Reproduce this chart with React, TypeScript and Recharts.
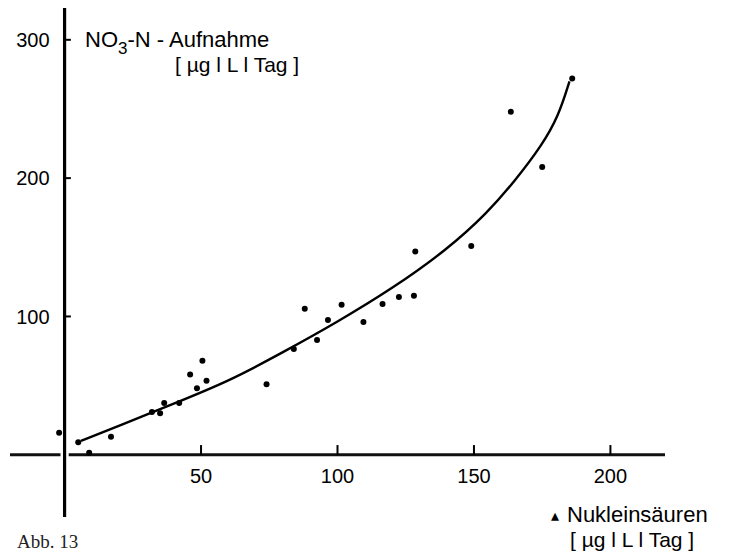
import React from 'react';
import { ComposedChart, Line, Scatter, XAxis, YAxis, ReferenceLine } from 'recharts';

// measured points: nucleic acids (x) vs NO3-N uptake (y)
const pointX = [-2, 5, 9, 17, 32, 35, 36.5, 42, 46, 48.5, 50.5, 52, 74, 84, 88, 92.5, 96.5, 101.5, 109.5, 116.5, 122.5, 128, 128.5, 149, 163.5, 175, 186];
const pointY = [16, 9, 1.5, 13, 31, 30, 37.5, 37.5, 58, 48, 68, 53.5, 51, 76.5, 105.5, 83, 97.5, 108.5, 96, 109, 114, 115, 147, 151, 248, 208, 272];

// hand-drawn regression curve
const curveX = [6, 20, 40, 60, 80, 100, 120, 140, 155, 165, 175, 181, 185];
const curveY = [10, 21, 37, 53, 74, 96, 120, 148, 175, 198, 224, 245, 270];

const xTicks = [50, 100, 150, 200];
const yTicks = [100, 200, 300];

const points = pointX.map((x, i) => ({ x, y: pointY[i] }));
const curve = curveX.map((x, i) => ({ x, y: curveY[i] }));

const FONT = '"Liberation Sans", Arial, sans-serif';

const Dot = (props: any) => <circle cx={props.cx} cy={props.cy} r={3} fill="#000" />;

export default function App() {
  return (
    <div style={{ position: 'absolute', left: 0, top: 0, width: 731, height: 555, background: '#fff', overflow: 'hidden' }}>
      <ComposedChart width={731} height={555} margin={{ top: 8, right: 66, bottom: 38, left: 10 }}>
        <XAxis type="number" dataKey="x" domain={[-20, 220]} hide allowDataOverflow />
        <YAxis type="number" dataKey="y" domain={[-45, 323]} hide allowDataOverflow />

        {/* axes crossing at the origin */}
        <ReferenceLine segment={[{ x: -20, y: 0 }, { x: -1.5, y: 0 }]} stroke="#111" strokeWidth={2.8} />
        <ReferenceLine segment={[{ x: 1.5, y: 0 }, { x: 220, y: 0 }]} stroke="#111" strokeWidth={2.8} />
        <ReferenceLine x={0} stroke="#000" strokeWidth={3.2} />

        {xTicks.map((t) => (
          <ReferenceLine
            key={`xt-${t}`}
            segment={[{ x: t, y: 0 }, { x: t, y: 7 }]}
            stroke="#000"
            strokeWidth={2}
            label={{ value: String(t), position: 'bottom', offset: 14, fill: '#000', fontSize: 20, fontFamily: FONT }}
          />
        ))}
        {yTicks.map((t) => (
          <ReferenceLine
            key={`yt-${t}`}
            segment={[{ x: 0, y: t }, { x: 2.3, y: t }]}
            stroke="#000"
            strokeWidth={2}
            label={{ value: String(t), position: 'left', offset: 15, fill: '#000', fontSize: 20, fontFamily: FONT }}
          />
        ))}

        <Line data={curve} dataKey="y" type="basis" stroke="#000" strokeWidth={2.4} dot={false} isAnimationActive={false} />
        <Scatter data={points} dataKey="y" fill="#000" shape={Dot} isAnimationActive={false} />
      </ComposedChart>

      <svg width={731} height={555} style={{ position: 'absolute', left: 0, top: 0, pointerEvents: 'none' }}>
        <g fontFamily={FONT} fill="#000">
          <text x={85} y={47} fontSize={22}>
            NO<tspan fontSize={17} dy={7}>3</tspan>
            <tspan dy={-7}>-N - Aufnahme</tspan>
          </text>
          <text x={175} y={72} fontSize={21}>[ µg l L l Tag ]</text>

          <text x={551} y={521} fontSize={16}>▴</text>
          <text x={567} y={522} fontSize={22}>Nukleinsäuren</text>
          <text x={570} y={547} fontSize={21}>[ µg l L l Tag ]</text>
        </g>
        <text x={17} y={548} fontSize={19} fontFamily='"Liberation Serif", serif' fill="#222">Abb. 13</text>
      </svg>
    </div>
  );
}
